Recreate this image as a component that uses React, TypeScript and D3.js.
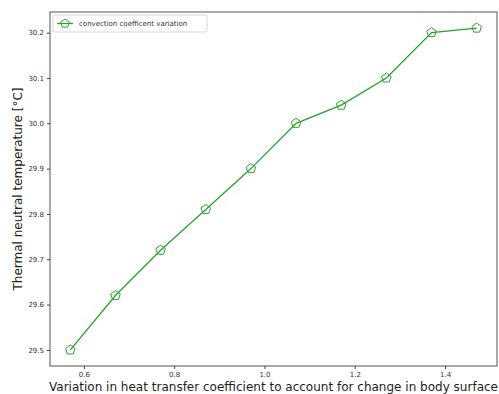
import { useEffect, useRef } from 'react'
import * as d3 from 'd3'

const coefficients = [0.57, 0.67, 0.77, 0.87, 0.97, 1.07, 1.17, 1.27, 1.37, 1.47]
const temperatures = [29.5, 29.62, 29.72, 29.81, 29.9, 30.0, 30.04, 30.1, 30.2, 30.21]
const xTicks = [0.6, 0.8, 1.0, 1.2, 1.4]
const yTicks = [29.5, 29.6, 29.7, 29.8, 29.9, 30.0, 30.1, 30.2]
const seriesName = 'convection coefficent variation'

const W = 499
const H = 394
const GREEN = '#2ca02c'
const FONT = 'DejaVu Sans, sans-serif'

// open pentagon marker path, centred at 0,0
function pentagon(r: number) {
  const pts = d3.range(5).map((k) => {
    const a = -Math.PI / 2 + (k * 2 * Math.PI) / 5
    return [r * Math.cos(a), r * Math.sin(a)] as [number, number]
  })
  return 'M' + pts.map((p) => p.join(',')).join('L') + 'Z'
}

export default function App() {
  const ref = useRef<SVGSVGElement | null>(null)

  useEffect(() => {
    const svg = d3.select(ref.current)
    svg.selectAll('*').remove()

    const margin = { top: 12, right: 2, bottom: 28, left: 50 }
    const width = W - margin.left - margin.right
    const height = H - margin.top - margin.bottom

    const pad = 0.05
    const xr = d3.extent(coefficients) as [number, number]
    const yr = d3.extent(temperatures) as [number, number]
    const dx = (xr[1] - xr[0]) * pad
    const dy = (yr[1] - yr[0]) * pad

    const x = d3.scaleLinear().domain([xr[0] - dx, xr[1] + dx]).range([0, width])
    const y = d3.scaleLinear().domain([yr[0] - dy, yr[1] + dy]).range([height, 0])

    const chart = svg.append('g').attr('transform', `translate(${margin.left},${margin.top})`)

    // frame
    chart
      .append('rect')
      .attr('width', width)
      .attr('height', height)
      .attr('fill', 'none')
      .attr('stroke', '#555')
      .attr('stroke-width', 1)

    const xAxis = chart
      .append('g')
      .attr('transform', `translate(0,${height})`)
      .call(d3.axisBottom(x).tickValues(xTicks).tickFormat(d3.format('.1f')).tickSize(3).tickPadding(3))
    const yAxis = chart
      .append('g')
      .call(d3.axisLeft(y).tickValues(yTicks).tickFormat(d3.format('.1f')).tickSize(3).tickPadding(3))

    for (const g of [xAxis, yAxis]) {
      g.select('.domain').remove()
      g.selectAll('line').attr('stroke', '#444')
      g.selectAll('text').attr('fill', '#333').attr('font-size', 7).attr('font-family', FONT)
    }

    const line = d3
      .line<number>()
      .x((_, i) => x(coefficients[i]))
      .y((d) => y(d))

    chart
      .append('path')
      .datum(temperatures)
      .attr('d', line)
      .attr('fill', 'none')
      .attr('stroke', GREEN)
      .attr('stroke-width', 1.3)

    chart
      .selectAll('.pt')
      .data(temperatures)
      .enter()
      .append('path')
      .attr('class', 'pt')
      .attr('d', pentagon(5))
      .attr('transform', (d, i) => `translate(${x(coefficients[i])},${y(d)})`)
      .attr('fill', 'none')
      .attr('stroke', GREEN)
      .attr('stroke-width', 1)

    // legend
    const lg = chart.append('g').attr('transform', 'translate(3,3)')
    lg.append('rect')
      .attr('width', 154)
      .attr('height', 17)
      .attr('rx', 2)
      .attr('fill', 'white')
      .attr('stroke', '#ccc')
      .attr('stroke-width', 0.8)
    lg.append('line')
      .attr('x1', 4)
      .attr('x2', 20)
      .attr('y1', 8.5)
      .attr('y2', 8.5)
      .attr('stroke', GREEN)
      .attr('stroke-width', 1.3)
    lg.append('path')
      .attr('d', pentagon(4.5))
      .attr('transform', 'translate(12,8.5)')
      .attr('fill', 'none')
      .attr('stroke', GREEN)
    lg.append('text')
      .attr('x', 26)
      .attr('y', 11)
      .attr('font-size', 7)
      .attr('font-family', FONT)
      .attr('fill', '#333')
      .text(seriesName)

    // axis titles
    svg
      .append('text')
      .attr('x', 49)
      .attr('y', 391)
      .attr('font-size', 11.5)
      .attr('font-family', FONT)
      .attr('fill', '#222')
      .attr('textLength', 449)
      .attr('lengthAdjust', 'spacingAndGlyphs')
      .text('Variation in heat transfer coefficient to account for change in body surface')

    svg
      .append('text')
      .attr('transform', 'translate(22,189) rotate(-90)')
      .attr('text-anchor', 'middle')
      .attr('font-size', 12)
      .attr('font-family', FONT)
      .attr('fill', '#222')
      .text('Thermal neutral temperature [°C]')
  }, [])

  return (
    <svg
      ref={ref}
      width={W}
      height={H}
      style={{ position: 'absolute', left: 0, top: 0, background: 'white' }}
    />
  )
}
